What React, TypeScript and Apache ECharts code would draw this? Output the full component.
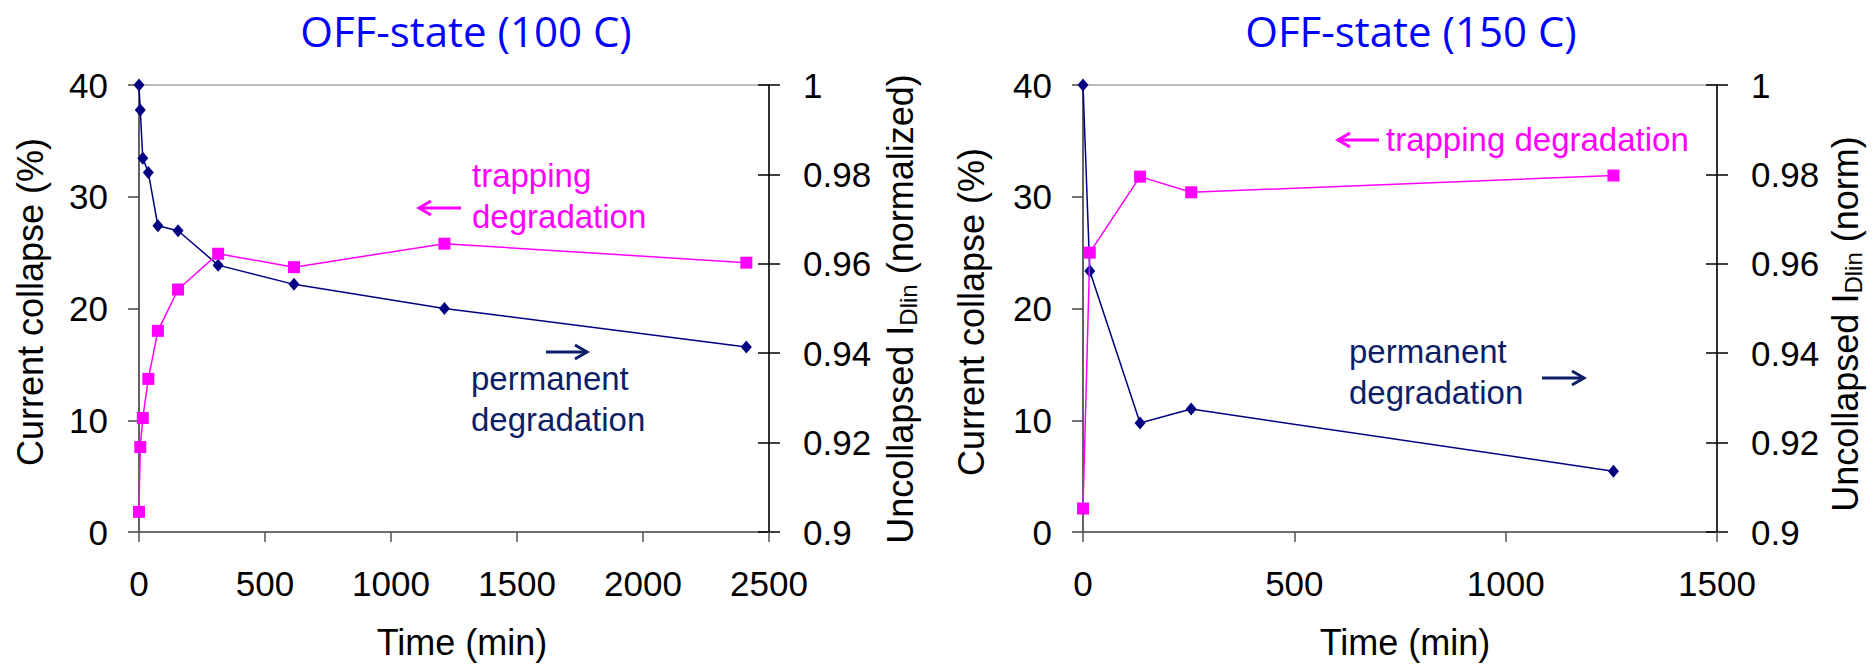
import React, { useEffect, useRef } from 'react';
import * as echarts from 'echarts';

// ---- data ----
const time100 = [0, 5, 15, 37, 75, 155, 314, 615, 1212, 2410];
const trapping100 = [1.8, 7.6, 10.2, 13.7, 18.0, 21.7, 24.9, 23.7, 25.8, 24.1];
const permanent100 = [1.0, 0.9944, 0.9836, 0.9804, 0.9685, 0.9674, 0.9597, 0.9554, 0.95, 0.9414];

const time150 = [0, 16, 135, 256, 1255];
const trapping150 = [2.1, 25.0, 31.8, 30.4, 31.9];
const permanent150 = [1.0, 0.9584, 0.9244, 0.9275, 0.9136];

const titles = ['OFF-state (100 C)', 'OFF-state (150 C)'];
const xMaxes = [2500, 1500];
const xInterval = 500;
const leftAxis = { min: 0, max: 40, interval: 10 };
const rightAxis = { min: 0.9, max: 1, interval: 0.02 };
const xName = 'Time (min)';
const leftName = 'Current collapse (%)';
const rightNameTails = [' (normalized)', ' (norm)'];

const FONT = '"Liberation Sans", Arial, Helvetica, sans-serif';
const NAVY = '#000080';
const MAGENTA = '#FF00FF';
const TEXT_NAVY = '#0C1F66';

const zip = (xs: number[], ys: number[]) => xs.map((x, i) => [x, ys[i]]);

export default function App() {
  const ref = useRef<HTMLDivElement>(null);
  useEffect(() => {
    if (!ref.current) return;
    const chart = echarts.init(ref.current, undefined, { renderer: 'svg' });

    const grids = [
      { left: 139, top: 85, width: 630, height: 448 },
      { left: 1083, top: 85, width: 634, height: 448 },
    ];
    const xNamePad = [16, 10];

    const labelStyle = { color: '#000', fontFamily: FONT, fontSize: 35 };

    const xAxes = grids.map((_, i) => ({
      type: 'value',
      gridIndex: i,
      min: 0,
      max: xMaxes[i],
      interval: xInterval,
      axisLine: { show: true, onZero: false, lineStyle: { color: '#555', width: 1.5 } },
      axisTick: { show: true, inside: false, length: 10, lineStyle: { color: '#555', width: 1.5 } },
      axisLabel: { ...labelStyle, margin: 34, formatter: (v: number) => String(v) },
      splitLine: { show: false },
      name: xName,
      nameLocation: 'middle',
      nameGap: 92,
      nameTextStyle: { ...labelStyle, fontSize: 36, padding: [0, 0, 0, xNamePad[i]] },
    }));

    const yAxes: any[] = [];
    grids.forEach((_, i) => {
      yAxes.push({
        type: 'value',
        gridIndex: i,
        position: 'left',
        ...leftAxis,
        axisLine: { show: true, lineStyle: { color: '#444', width: 1.5 } },
        axisTick: { show: true, inside: false, length: 11, lineStyle: { color: '#444', width: 1.5 } },
        axisLabel: { ...labelStyle, margin: 31 },
        splitLine: { show: false },
      });
      yAxes.push({
        type: 'value',
        gridIndex: i,
        position: 'right',
        ...rightAxis,
        axisLine: { show: true, lineStyle: { color: '#000', width: 1.5 } },
        axisTick: { show: true, inside: false, length: 11, lineStyle: { color: '#000', width: 1.5 } },
        axisLabel: {
          ...labelStyle,
          margin: 34,
          formatter: (v: number) => String(Math.round(v * 100) / 100),
        },
        splitLine: { show: false },
      });
      // inner half of the crossing ticks on the right axis
      yAxes.push({
        type: 'value',
        gridIndex: i,
        position: 'right',
        ...rightAxis,
        axisLine: { show: false },
        axisTick: { show: true, inside: true, length: 11, lineStyle: { color: '#000', width: 1.5 } },
        axisLabel: { show: false },
        splitLine: { show: false },
      });
    });

    const navySeries = (xi: number, yi: number, t: number[], v: number[]) => ({
      type: 'line',
      xAxisIndex: xi,
      yAxisIndex: yi,
      data: zip(t, v),
      symbol: 'diamond',
      symbolSize: [11, 13],
      clip: false,
      itemStyle: { color: NAVY },
      lineStyle: { color: NAVY, width: 1.5 },
      z: 3,
    });
    const pinkSeries = (xi: number, yi: number, t: number[], v: number[]) => ({
      type: 'line',
      xAxisIndex: xi,
      yAxisIndex: yi,
      data: zip(t, v),
      symbol: 'rect',
      symbolSize: 12,
      clip: false,
      itemStyle: { color: MAGENTA },
      lineStyle: { color: MAGENTA, width: 1.5 },
      z: 4,
    });

    const titleText = (text: string, x: number) => ({
      type: 'text',
      x,
      y: 30,
      style: {
        text,
        fill: '#0000FF',
        fontFamily: '"Open Sans", Lato, sans-serif',
        fontSize: 42,
        align: 'center',
        verticalAlign: 'middle',
      },
    });

    const rotName = (x: number, y: number, text: string, rich?: any) => ({
      type: 'text',
      x,
      y,
      rotation: Math.PI / 2,
      style: {
        text,
        fill: '#000',
        fontFamily: FONT,
        fontSize: 36,
        align: 'center',
        verticalAlign: 'middle',
        rich,
      },
    });

    const richName = {
      a: { fontFamily: FONT, fontSize: 36, lineHeight: 40, fill: '#000' },
      b: { fontFamily: FONT, fontSize: 24, lineHeight: 16, verticalAlign: 'bottom', fill: '#000' },
    };

    const annot = (x: number, y: number, text: string, color: string) => ({
      type: 'text',
      x,
      y,
      style: {
        text,
        fill: color,
        fontFamily: FONT,
        fontSize: 33,
        lineHeight: 41,
        align: 'left',
        verticalAlign: 'middle',
      },
    });

    const arrow = (x1: number, x2: number, y: number, color: string) => {
      const dir = x2 > x1 ? 1 : -1;
      return {
        type: 'group',
        children: [
          {
            type: 'line',
            shape: { x1, y1: y, x2, y2: y },
            style: { stroke: color, lineWidth: 3 },
          },
          {
            type: 'polyline',
            shape: { points: [[x2 - dir * 12, y - 7], [x2, y], [x2 - dir * 12, y + 7]] },
            style: { stroke: color, lineWidth: 3, fill: null },
          },
        ],
      };
    };

    const option: any = {
      animation: false,
      backgroundColor: '#fff',
      grid: grids.map((g) => ({ ...g, show: true, borderColor: '#a6a6a6', borderWidth: 1.5, backgroundColor: 'transparent' })),
      xAxis: xAxes,
      yAxis: yAxes,
      series: [
        navySeries(0, 1, time100, permanent100),
        pinkSeries(0, 0, time100, trapping100),
        navySeries(1, 4, time150, permanent150),
        pinkSeries(1, 3, time150, trapping150),
      ],
      graphic: [
        titleText(titles[0], 466),
        titleText(titles[1], 1411),
        rotName(30, 302, leftName),
        rotName(971, 312, leftName),
        rotName(900, 309, `{a|Uncollapsed I}{b|Dlin}{a|${rightNameTails[0]}}`, richName),
        rotName(1845, 324, `{a|Uncollapsed I}{b|Dlin}{a|${rightNameTails[1]}}`, richName),
        annot(472, 196, 'trapping\ndegradation', MAGENTA),
        annot(471, 399, 'permanent\ndegradation', TEXT_NAVY),
        annot(1386, 139, 'trapping degradation', MAGENTA),
        annot(1349, 372, 'permanent\ndegradation', TEXT_NAVY),
        arrow(461, 419, 208, MAGENTA),
        arrow(546, 587, 352, TEXT_NAVY),
        arrow(1379, 1338, 140, MAGENTA),
        arrow(1542, 1584, 378, TEXT_NAVY),
      ],
    };

    chart.setOption(option);
    return () => chart.dispose();
  }, []);

  return (
    <div
      ref={ref}
      style={{ position: 'fixed', left: 0, top: 0, width: 1875, height: 665, background: '#fff' }}
    />
  );
}
